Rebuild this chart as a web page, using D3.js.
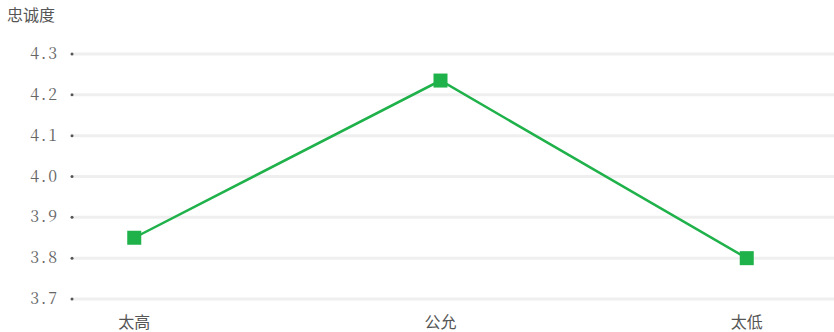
<!DOCTYPE html>
<html><head><meta charset="utf-8">
<script src="https://cdn.jsdelivr.net/npm/d3@7"></script>
<style>body{margin:0;background:#fff}</style>
</head><body>
<svg id="c" width="834" height="332"></svg>
<script>
const categories = ["太高", "公允", "太低"];
const values = [3.85, 4.235, 3.80];
const yTicks = [3.7, 3.8, 3.9, 4.0, 4.1, 4.2, 4.3];
const yTitle = "忠诚度";

const svg = d3.select("#c");
const W = 834, H = 332;
const m = {left: 73, right: 26, top: 54, bottom: 33};
const x = d3.scalePoint().domain(categories).range([m.left, 808]).padding(0.2);
const y = d3.scaleLinear().domain([3.7, 4.3]).range([H - m.bottom, m.top]);

// gridlines
svg.append("g").selectAll("line").data(yTicks).join("line")
  .attr("x1", m.left).attr("x2", W)
  .attr("y1", d => y(d)).attr("y2", d => y(d))
  .attr("stroke", "#efefef").attr("stroke-width", 3);

// y axis labels and dots
const yAxis = svg.append("g");
yAxis.selectAll("circle").data(yTicks).join("circle")
  .attr("cx", 72).attr("cy", d => y(d)).attr("r", 1.5).attr("fill", "#555");
yAxis.selectAll("text").data(yTicks).join("text")
  .attr("x", 59).attr("y", d => y(d) + 5)
  .attr("text-anchor", "end")
  .attr("font-family", "'Noto Serif CJK SC','DejaVu Serif','Liberation Serif',serif")
  .attr("font-size", 16).attr("fill", "#666")
  .style("letter-spacing", "2px")
  .text(d => d.toFixed(1));

svg.append("text").attr("x", 7).attr("y", 21)
  .attr("font-family", "'Noto Sans CJK SC',sans-serif").attr("font-size", 16)
  .attr("fill", "#555").text(yTitle);

// x labels
svg.append("g").selectAll("text").data(categories).join("text")
  .attr("x", d => x(d)).attr("y", 328).attr("text-anchor", "middle")
  .attr("font-family", "'Noto Sans CJK SC',sans-serif").attr("font-size", 16)
  .attr("fill", "#555").text(d => d);

const pts = categories.map((c, i) => [x(c), y(values[i])]);
svg.append("path").attr("d", d3.line()(pts))
  .attr("fill", "none").attr("stroke", "#1fb14a").attr("stroke-width", 2.5);
svg.append("g").selectAll("rect").data(pts).join("rect")
  .attr("x", d => d[0] - 7).attr("y", d => d[1] - 7)
  .attr("width", 14).attr("height", 14).attr("fill", "#1fb14a");
</script>
</body></html>
